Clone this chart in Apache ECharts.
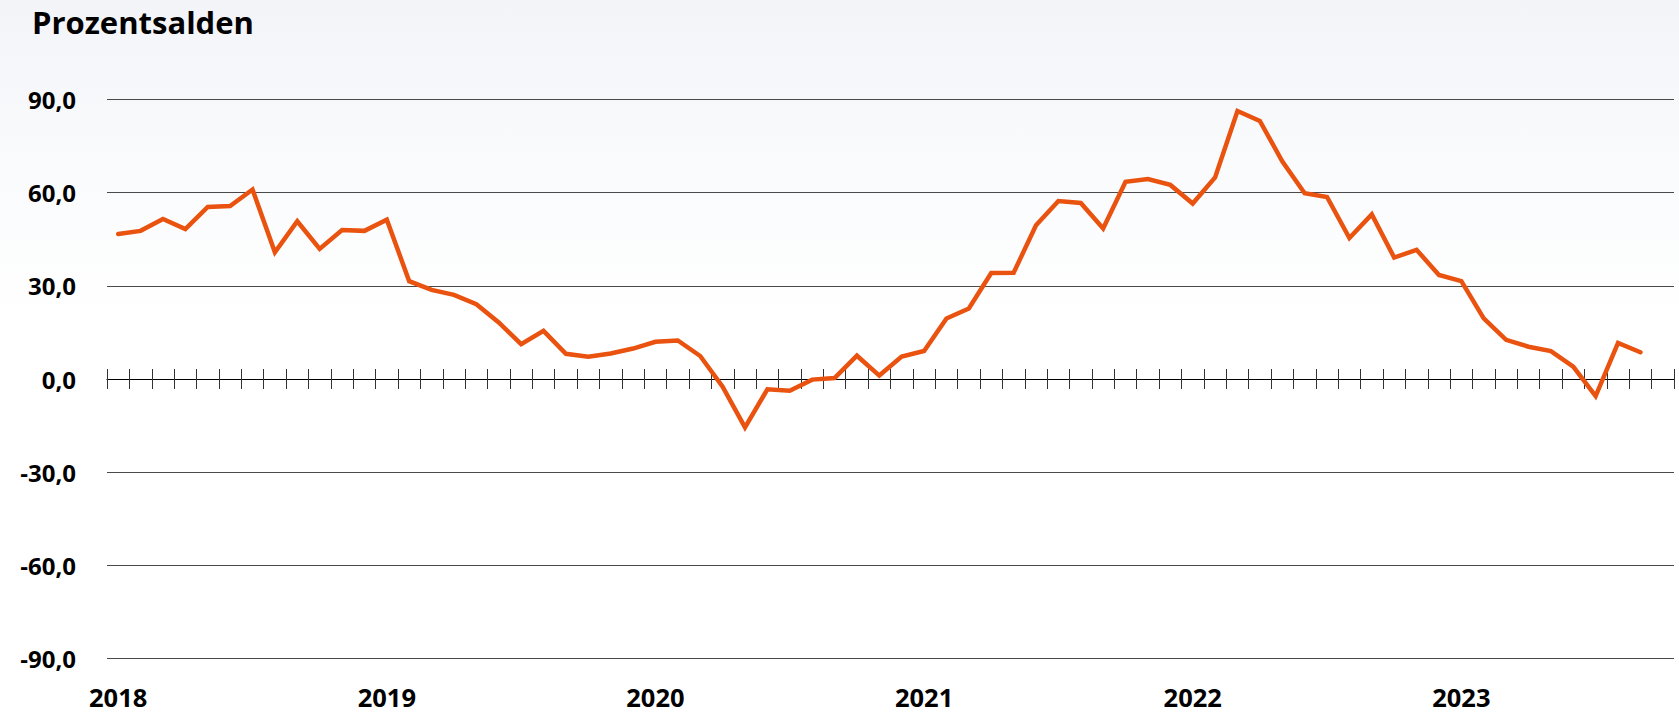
<!DOCTYPE html>
<html>
<head>
<meta charset="utf-8">
<script src="https://cdn.jsdelivr.net/npm/echarts@6/dist/echarts.min.js"></script>
<style>
html,body{margin:0;padding:0;}
#chart{width:1679px;height:714px;background:linear-gradient(180deg,#f3f4f8 0%,#f9fafc 20%,#ffffff 45%,#ffffff 100%);}
</style>
</head>
<body>
<div id="chart"></div>
<script>
const titleText = 'Prozentsalden';
const years = ['2018','2019','2020','2021','2022','2023'];
const monthCount = 70; // Jan 2018 – Oct 2023 on the axis
const categories = [];
for (let i = 0; i < monthCount; i++) {
  const y = years[Math.floor(i / 12)];
  const m = String(i % 12 + 1).padStart(2, '0');
  categories.push(y + '-' + m);
}
const yTicks = [-90, -60, -30, 0, 30, 60, 90];
const values = [
  46.7, 47.7, 51.5, 48.3, 55.4, 55.7, 61.0, 40.8, 50.8, 41.9, 48.0, 47.7,
  51.3, 31.5, 28.7, 27.1, 24.1, 18.2, 11.2, 15.5, 8.1, 7.2, 8.2, 9.8,
  12.0, 12.4, 7.4, -2.5, -15.6, -3.3, -3.8, -0.2, 0.3, 7.5, 1.1, 7.2,
  9.0, 19.5, 22.7, 34.1, 34.2, 49.5, 57.3, 56.7, 48.5, 63.5, 64.4, 62.5,
  56.5, 64.9, 86.3, 83.1, 70.1, 59.8, 58.6, 45.4, 53.0, 39.1, 41.6, 33.5,
  31.5, 19.5, 12.6, 10.4, 9.0, 4.0, -5.5, 11.6, 8.6
];

const FONT = "'Open Sans', 'Noto Sans', sans-serif";
const yMin = yTicks[0], yMax = yTicks[yTicks.length - 1];
const chart = echarts.init(document.getElementById('chart'), null, {renderer: 'svg'});
chart.setOption({
  backgroundColor: 'transparent',
  animation: false,
  graphic: [{
    type: 'text',
    left: 32,
    top: 6,
    style: {text: titleText, font: "bold 31px " + FONT, fill: '#000'}
  }],
  grid: {left: 107, right: 5, top: 99.5, bottom: 55.5, containLabel: false},
  xAxis: [
    {
      type: 'category', data: categories, boundaryGap: true, position: 'bottom',
      axisLine: {show: false, onZero: false},
      axisTick: {show: false},
      axisLabel: {
        show: true, interval: 11, margin: 28, lineHeight: 20,
        formatter: v => v.slice(0, 4),
        fontFamily: FONT, fontWeight: 'bold', fontSize: 25.5, color: '#000'
      },
      splitLine: {show: false}
    },
    {
      type: 'category', data: categories, boundaryGap: true, position: 'bottom',
      axisLine: {show: true, onZero: true, onZeroAxisIndex: 0, lineStyle: {color: '#000', width: 1.2}},
      axisTick: {show: true, inside: false, length: 10, interval: 0, lineStyle: {color: '#333', width: 1}},
      axisLabel: {show: false},
      splitLine: {show: false}
    },
    {
      type: 'category', data: categories, boundaryGap: true, position: 'bottom',
      axisLine: {show: false, onZero: true, onZeroAxisIndex: 1},
      axisTick: {show: true, inside: true, length: 10, interval: 0, lineStyle: {color: '#333', width: 1}},
      axisLabel: {show: false},
      splitLine: {show: false}
    }
  ],
  yAxis: [
    {
      type: 'value', min: yMin, max: yMax, interval: 30, position: 'left',
      axisLine: {show: false},
      axisTick: {show: false},
      axisLabel: {
        margin: 31,
        formatter: v => v.toFixed(1).replace('.', ','),
        fontFamily: FONT, fontWeight: 'bold', fontSize: 24, color: '#000'
      },
      splitLine: {show: true, lineStyle: {color: '#4a4a4a', width: 1.2}}
    },
    {
      type: 'value', min: yMin, max: yMax, interval: 30, position: 'right',
      axisLine: {show: false},
      axisTick: {show: false},
      axisLabel: {show: false},
      splitLine: {show: false}
    }
  ],
  series: [{
    type: 'line',
    xAxisIndex: 0,
    yAxisIndex: 0,
    data: values,
    symbol: 'none',
    lineStyle: {color: '#E9520F', width: 4.5, cap: 'round', join: 'miter'},
    z: 5
  }]
});
</script>
</body>
</html>
